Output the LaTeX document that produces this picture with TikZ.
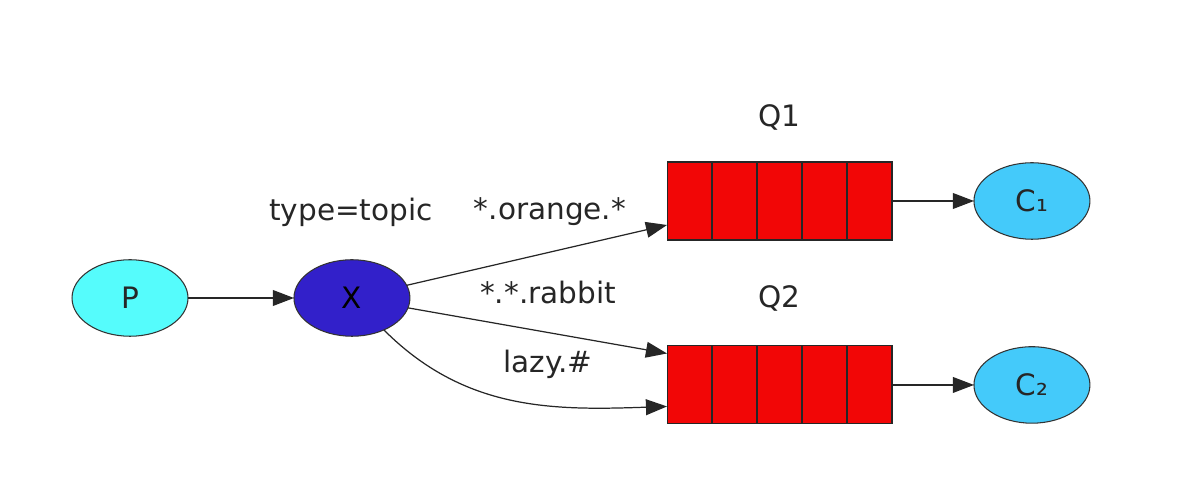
\documentclass[tikz,border=0pt]{standalone}
\usepackage{fontspec}
\setmainfont{DejaVu Sans}
\usepackage{xcolor}
\usepackage{tikz}
\usetikzlibrary{arrows.meta,positioning,calc,shapes.geometric}
\definecolor{cianprod}{RGB}{85,252,252}
\definecolor{azulx}{RGB}{50,32,202}
\definecolor{rojocola}{RGB}{242,6,6}
\definecolor{celeste}{RGB}{68,202,250}
\tikzset{
  nodoel/.style     = {ellipse, draw=black!80, line width=0.6pt, inner sep=0pt,
                       outer sep=0pt, minimum width=2.32cm, minimum height=1.53cm,
                       font=\fontsize{16.8}{20}\selectfont, text=black!85},
  productor/.style  = {nodoel, fill=cianprod},
  exchange/.style   = {nodoel, fill=azulx, text=black},
  consumidor/.style = {nodoel, fill=celeste},
  cola/.style       = {rectangle, draw=black!85, line width=0.6pt, fill=rojocola,
                       minimum width=4.5cm, minimum height=1.56cm, inner sep=0pt,
                       outer sep=0pt},
  celda/.style      = {draw=black!85, line width=0.6pt},
  etiqueta/.style   = {font=\fontsize{16.8}{20}\selectfont, text=black!85, inner sep=0pt},
  flecha/.style     = {-{Triangle[length=12pt,width=9pt]}, line width=0.7pt, draw=black!85},
}
\begin{document}
\begin{tikzpicture}[x=0.02cm, y=-0.02cm]
    \useasboundingbox (0,0) rectangle (1200,502);

    % --- productor y exchange
    \node[productor] (p) at (130,298) {P};
    \node[exchange, right=2.12cm of p] (x) {X};
    \node[etiqueta] (tipo) at (351,212) {type=topic};

    % --- colas
    \node[cola] (q1) at (779.5,201) {};
    \node[cola, below=2.12cm of q1] (q2) {};
    \foreach \q in {q1,q2}
      \foreach \k in {1,...,4}
        \draw[celda] ($(\q.north west)!\k/5!(\q.north east)$)
                  -- ($(\q.south west)!\k/5!(\q.south east)$);
    \node[etiqueta] (lq1) at (779,117) {Q1};
    \node[etiqueta] (lq2) at (779,298) {Q2};

    % --- consumidores
    \node[consumidor, right=1.64cm of q1] (c1) {C₁};
    \node[consumidor, right=1.64cm of q2] (c2) {C₂};

    % --- flechas
    \draw[flecha] (p) -- (x);
    \draw[flecha] (x) -- ([yshift=-0.48cm]q1.west);
    \draw[flecha] (x) -- ([yshift=0.63cm]q2.west);
    \draw[flecha] (x.-45) to[out=-45,in=182] ([yshift=-0.43cm]q2.west);
    \draw[flecha] (q1) -- (c1);
    \draw[flecha] (q2) -- (c2);

    % --- claves de enrutamiento
    \node[etiqueta] (kor) at (550,212) {*.orange.*};
    \node[etiqueta] (krab) at (548,293) {*.*.rabbit};
    \node[etiqueta] (klazy) at (548,364) {lazy.\#};
\end{tikzpicture}
\end{document}
